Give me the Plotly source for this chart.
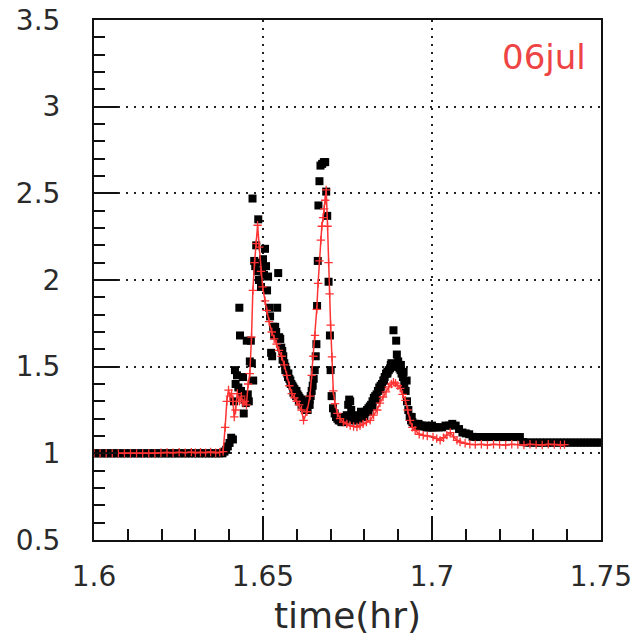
import plotly.graph_objects as go

# ---------------- data ----------------
black_x = [
    1.600, 1.601, 1.602, 1.603, 1.604, 1.605, 1.606, 1.607, 1.608, 1.609,
    1.610, 1.611, 1.612, 1.613, 1.614, 1.615, 1.616, 1.617, 1.618, 1.619,
    1.620, 1.621, 1.622, 1.623, 1.624, 1.625, 1.626, 1.627, 1.628, 1.629,
    1.630, 1.631, 1.632, 1.633, 1.634, 1.635, 1.636, 1.637, 1.638,
    1.6386, 1.6391, 1.6396, 1.6401, 1.6406, 1.6411, 1.6414, 1.6417, 1.6419, 1.6423,
    1.6427, 1.6430, 1.6432, 1.6435, 1.6438, 1.6441, 1.6443, 1.6446, 1.6449, 1.6452,
    1.6455, 1.6458, 1.6461, 1.6464, 1.6467, 1.6469, 1.6471, 1.6474, 1.6477, 1.6480,
    1.6483, 1.6486, 1.6488, 1.6491, 1.6494, 1.6497, 1.6500, 1.6503, 1.6506, 1.6509,
    1.6512, 1.6515, 1.6518, 1.6521, 1.6524, 1.6527, 1.6530, 1.6533, 1.6536, 1.6539,
    1.6542, 1.6545, 1.6548, 1.6551, 1.6554, 1.6557, 1.6560, 1.6563, 1.6566, 1.6569,
    1.6572, 1.6575, 1.6578, 1.6581, 1.6584, 1.6587, 1.6590, 1.6593, 1.6596, 1.6599,
    1.6602, 1.6605, 1.6608, 1.6611, 1.6614, 1.6617, 1.6620, 1.6623, 1.6626, 1.6629,
    1.6632, 1.6635, 1.6638, 1.6641, 1.6644, 1.6647, 1.6650, 1.6653, 1.6656, 1.6658,
    1.6660, 1.6662, 1.6664, 1.6667, 1.6670, 1.6675, 1.6680, 1.6684, 1.6687, 1.6690,
    1.6694, 1.6698, 1.6700, 1.6703, 1.6707, 1.6712, 1.6716, 1.6720, 1.6724, 1.6728,
    1.6732, 1.6736, 1.6740, 1.6744, 1.6748, 1.6752, 1.6755, 1.6758, 1.6761, 1.6764,
    1.6768, 1.6772, 1.6776, 1.6780, 1.6784, 1.6788, 1.6792, 1.6796, 1.6800, 1.6804,
    1.6808, 1.6812, 1.6816, 1.6820, 1.6824, 1.6828, 1.6832, 1.6836, 1.6840, 1.6844,
    1.6848, 1.6852, 1.6856, 1.6860, 1.6864, 1.6868, 1.6872, 1.6876, 1.6880, 1.6886,
    1.6889, 1.6894, 1.6896, 1.6898, 1.6901, 1.6904, 1.6907, 1.6910, 1.6914, 1.6918,
    1.6922, 1.6926, 1.6930, 1.6934, 1.6938, 1.6942, 1.6946, 1.6950, 1.6955, 1.6960,
    1.6965, 1.6970, 1.6975, 1.6980, 1.6985, 1.6990, 1.6995, 1.7000, 1.7005,
    1.701, 1.702, 1.703, 1.704, 1.705, 1.706, 1.707, 1.708, 1.709, 1.710,
    1.711, 1.712, 1.713, 1.714, 1.715, 1.716, 1.717, 1.718, 1.719, 1.720,
    1.721, 1.722, 1.723, 1.724, 1.725, 1.726, 1.727, 1.728, 1.729, 1.730,
    1.731, 1.732, 1.733, 1.734, 1.735, 1.736, 1.737, 1.738, 1.739, 1.740,
    1.741, 1.742, 1.743, 1.744, 1.745, 1.746, 1.747, 1.748, 1.749, 1.750,
    # scattered extra readings that widen the bands
    1.6558, 1.6566, 1.6574, 1.6582, 1.6590, 1.6598, 1.6606, 1.6614, 1.6622, 1.6630,
    1.6638, 1.6734, 1.6742, 1.6770, 1.6778, 1.6790, 1.6800, 1.6812, 1.6824, 1.6836,
    1.6848, 1.6858, 1.6868, 1.6878, 1.6900, 1.6908, 1.6916, 1.6925, 1.6940, 1.6960,
    1.6980, 1.7000,
]
black_y = [
    1.00, 1.00, 1.00, 1.00, 1.00, 1.00, 1.00, 1.00, 1.00, 1.00,
    1.00, 1.00, 1.00, 1.00, 1.00, 1.00, 1.00, 1.00, 1.00, 1.00,
    1.00, 1.00, 1.00, 1.00, 1.00, 1.00, 1.00, 1.00, 1.00, 1.00,
    1.00, 1.00, 1.00, 1.00, 1.00, 1.00, 1.00, 1.00, 1.00,
    1.01, 1.02, 1.04, 1.06, 1.09, 1.08, 1.30, 1.48, 1.40, 1.45,
    1.38, 1.84, 1.68, 1.36, 1.34, 1.44, 1.23, 1.31, 1.29, 1.65,
    1.34, 1.30, 1.53, 1.65, 1.52, 2.47, 1.42, 2.11, 2.08, 2.20,
    2.05, 2.35, 2.00, 2.10, 1.96, 2.05, 2.12, 2.03, 2.18, 2.08,
    1.94, 2.02, 1.84, 1.79, 1.58, 1.56, 1.73, 1.68, 1.73, 1.70,
    1.84, 2.04, 1.67, 1.66, 1.61, 1.59, 1.56, 1.52, 1.50, 1.48,
    1.46, 1.46, 1.43, 1.42, 1.40, 1.39, 1.38, 1.37, 1.36, 1.36,
    1.34, 1.33, 1.32, 1.31, 1.31, 1.30, 1.29, 1.29, 1.28, 1.27,
    1.25, 1.28, 1.31, 1.33, 1.36, 1.39, 1.43, 1.48, 1.56, 1.63,
    1.85, 2.11, 2.43, 2.57, 2.66, 2.67, 2.68, 2.68, 2.51, 2.37,
    1.99, 1.68, 1.48, 1.33, 1.26, 1.23, 1.21, 1.20, 1.19, 1.19,
    1.18, 1.19, 1.18, 1.20, 1.22, 1.28, 1.31, 1.30, 1.25, 1.21,
    1.19, 1.20, 1.19, 1.21, 1.20, 1.21, 1.22, 1.23, 1.23, 1.24,
    1.25, 1.26, 1.27, 1.28, 1.30, 1.32, 1.33, 1.34, 1.36, 1.38,
    1.39, 1.40, 1.42, 1.44, 1.46, 1.47, 1.48, 1.49, 1.52, 1.71,
    1.50, 1.65, 1.57, 1.50, 1.51, 1.49, 1.48, 1.46, 1.44, 1.40,
    1.36, 1.30, 1.25, 1.21, 1.19, 1.18, 1.17, 1.17, 1.16, 1.16,
    1.16, 1.16, 1.155, 1.155, 1.15, 1.15, 1.15, 1.15, 1.15,
    1.15, 1.15, 1.15, 1.16, 1.16, 1.17, 1.16, 1.14, 1.12, 1.115,
    1.11, 1.095, 1.094, 1.094, 1.094, 1.094, 1.094, 1.094, 1.094, 1.094,
    1.094, 1.094, 1.094, 1.094, 1.094, 1.094, 1.065, 1.062, 1.062, 1.062,
    1.062, 1.062, 1.062, 1.062, 1.062, 1.062, 1.062, 1.062, 1.062, 1.062,
    1.062, 1.062, 1.062, 1.062, 1.062, 1.062, 1.062, 1.062, 1.062, 1.062,
    1.54, 1.48, 1.44, 1.40, 1.35, 1.33, 1.30, 1.28, 1.26, 1.25,
    1.28, 1.21, 1.19, 1.22, 1.21, 1.24, 1.21, 1.24, 1.27, 1.31,
    1.37, 1.42, 1.46, 1.51, 1.53, 1.51, 1.47, 1.42, 1.21, 1.17,
    1.16, 1.16,
]

red_x = [
    1.6000, 1.6018, 1.6036, 1.6054, 1.6072, 1.6090, 1.6108, 1.6126, 1.6144, 1.6162,
    1.6180, 1.6198, 1.6216, 1.6234, 1.6252, 1.6270, 1.6288, 1.6300, 1.6315, 1.6330,
    1.6345, 1.6360, 1.6372, 1.6382, 1.6388, 1.6393, 1.6398, 1.6402, 1.6407, 1.6411,
    1.6415, 1.6419, 1.6424, 1.6430, 1.6436, 1.6441, 1.6446, 1.6451, 1.6456, 1.6461,
    1.6466, 1.6470, 1.6475, 1.6480, 1.6484, 1.6489, 1.6494, 1.6499, 1.6506, 1.6511,
    1.6518, 1.6526, 1.6533, 1.6540, 1.6547, 1.6555, 1.6563, 1.6570, 1.6578, 1.6585,
    1.6593, 1.6600, 1.6607, 1.6614, 1.6620, 1.6630, 1.6639, 1.6644, 1.6649, 1.6654,
    1.6659, 1.6663, 1.6667, 1.6671, 1.6674, 1.6678, 1.6681, 1.6684, 1.6687, 1.6691,
    1.6694, 1.6697, 1.6700, 1.6704, 1.6708, 1.6713, 1.6720, 1.6728, 1.6738, 1.6748,
    1.6758, 1.6768, 1.6778, 1.6787, 1.6796, 1.6806, 1.6817, 1.6827, 1.6838, 1.6846,
    1.6855, 1.6864, 1.6872, 1.6880, 1.6886, 1.6892, 1.6899, 1.6906, 1.6913, 1.6921,
    1.6928, 1.6935, 1.6942, 1.6950, 1.6962, 1.6974, 1.6986, 1.7003, 1.7014, 1.7024,
    1.7034, 1.7044, 1.7054, 1.7064, 1.7074, 1.7083, 1.7098, 1.7112, 1.7128, 1.7146,
    1.7164, 1.7182, 1.7200, 1.7218, 1.7236, 1.7254, 1.7272, 1.7290, 1.7308, 1.7326,
    1.7344, 1.7362, 1.7380, 1.7392,
]
red_y = [
    1.000, 1.000, 1.000, 1.000, 1.000, 1.000, 1.000, 1.000, 1.000, 1.000,
    1.000, 1.003, 1.005, 1.003, 1.006, 1.004, 1.007, 1.003, 1.006, 1.004,
    1.008, 1.003, 1.006, 1.010, 1.150, 1.300, 1.365, 1.330, 1.345, 1.300,
    1.210, 1.250, 1.345, 1.300, 1.330, 1.290, 1.300, 1.280, 1.400, 1.460,
    1.670, 1.940, 2.100, 2.210, 2.316, 2.190, 2.050, 1.960, 1.880, 1.825,
    1.760, 1.700, 1.660, 1.630, 1.594, 1.560, 1.510, 1.450, 1.390, 1.345,
    1.320, 1.300, 1.280, 1.250, 1.190, 1.240, 1.330, 1.450, 1.560, 1.680,
    1.830, 1.980, 2.110, 2.230, 2.310, 2.360, 2.410, 2.460, 2.520, 2.310,
    2.100, 1.920, 1.740, 1.556, 1.360, 1.287, 1.230, 1.200, 1.180, 1.170,
    1.160, 1.155, 1.152, 1.160, 1.170, 1.180, 1.190, 1.220, 1.250, 1.290,
    1.325, 1.355, 1.383, 1.400, 1.411, 1.405, 1.390, 1.375, 1.340, 1.306,
    1.250, 1.190, 1.150, 1.133, 1.110, 1.104, 1.100, 1.095, 1.085, 1.075,
    1.090, 1.105, 1.120, 1.095, 1.075, 1.065, 1.058, 1.052, 1.050, 1.052,
    1.048, 1.052, 1.050, 1.048, 1.052, 1.050, 1.048, 1.052, 1.050, 1.048,
    1.052, 1.050, 1.048, 1.050,
]

x_tick_vals = [1.6, 1.65, 1.7, 1.75]
x_tick_text = ["1.6", "1.65", "1.7", "1.75"]
y_tick_vals = [0.5, 1.0, 1.5, 2.0, 2.5, 3.0, 3.5]
y_tick_text = ["0.5", "1", "1.5", "2", "2.5", "3", "3.5"]
x_title = "time(hr)"
label_text = "06jul"

# ---------------- figure ----------------
FONT = "DejaVu Sans"
fig = go.Figure()
fig.add_trace(go.Scatter(
    x=black_x, y=black_y, mode="markers",
    marker=dict(symbol="square", size=8, color="black", line=dict(width=0)),
    showlegend=False, hoverinfo="skip",
))
fig.add_trace(go.Scatter(
    x=red_x, y=red_y, mode="lines+markers",
    line=dict(color="#ff3333", width=1.5),
    marker=dict(symbol="cross-thin", size=6, line=dict(color="#ff3333", width=1.3)),
    showlegend=False, hoverinfo="skip",
))

axis_common = dict(
    showline=True, linecolor="#111111", linewidth=2, mirror=True,
    ticks="inside", ticklen=24, tickwidth=1.5, tickcolor="#111111",
    showgrid=True, gridcolor="#222222", gridwidth=1.5, griddash="2px,6px",
    zeroline=False, automargin=False,
    tickfont=dict(family=FONT, size=28, color="#2a2a2a"),
)

fig.update_layout(
    width=640, height=636,
    margin=dict(l=94, r=39, t=20, b=96),
    paper_bgcolor="white", plot_bgcolor="white",
    xaxis=dict(
        range=[1.6, 1.75], tickmode="array", tickvals=x_tick_vals, ticktext=x_tick_text,
        minor=dict(dtick=0.01, tick0=1.6, ticks="inside", ticklen=11, tickwidth=1.5,
                   tickcolor="#111111", showgrid=False),
        ticklabelstandoff=10,
        title=dict(text=x_title, font=dict(family=FONT, size=36, color="#2a2a2a"), standoff=14),
        **axis_common,
    ),
    yaxis=dict(
        range=[0.5, 3.5], tickmode="array", tickvals=y_tick_vals, ticktext=y_tick_text,
        minor=dict(dtick=0.1, tick0=0.5, ticks="inside", ticklen=11, tickwidth=1.5,
                   tickcolor="#111111", showgrid=False),
        ticklabelstandoff=26,
        **axis_common,
    ),
    annotations=[dict(
        text=label_text, xref="paper", yref="paper", x=0.974, y=0.929,
        xanchor="right", yanchor="middle", showarrow=False,
        font=dict(family=FONT, size=34, color="#ee4444"),
    )],
)

fig.write_html("out.html")
